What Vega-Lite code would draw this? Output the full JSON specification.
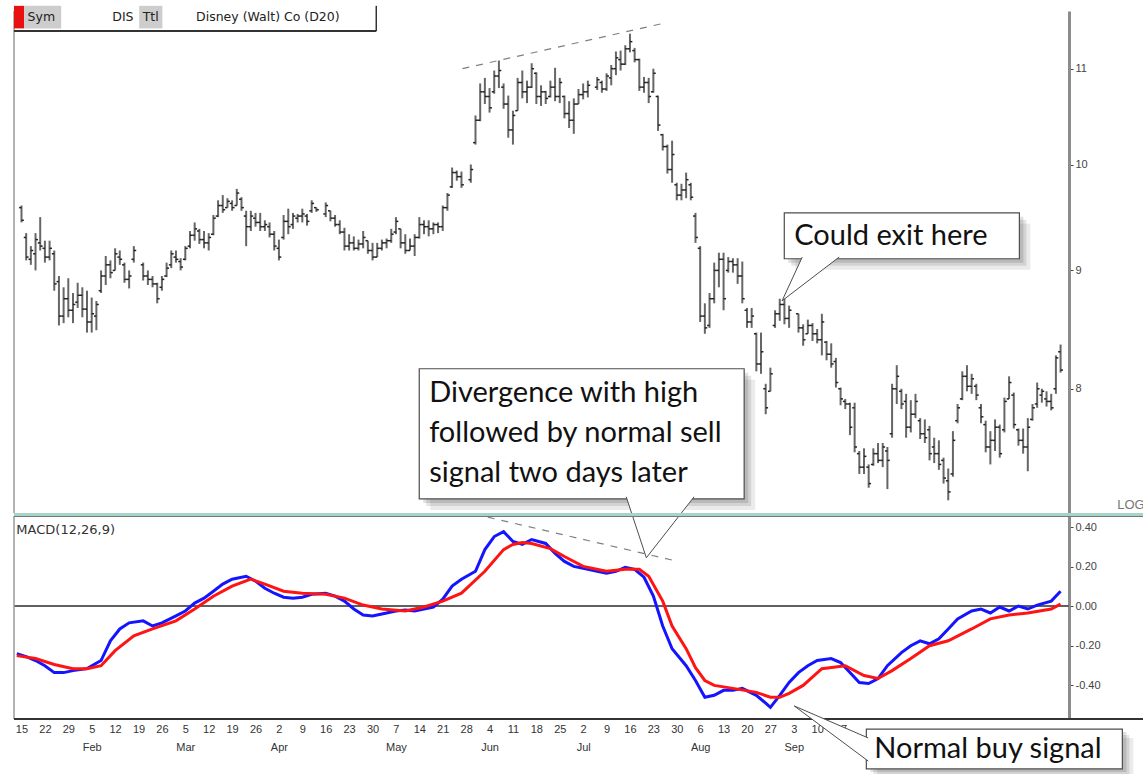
{
  "$schema": "https://vega.github.io/schema/vega-lite/v6.json",
  "padding": {"left": 10, "top": 5, "right": 0, "bottom": 0},
  "autosize": {"type": "pad"},
  "bounds": "flush",
  "spacing": 3,
  "background": "white",
  "config": {
    "view": {"stroke": null},
    "axis": {"grid": false, "labelFont": "Liberation Sans", "labelFontSize": 11, "labelColor": "#333", "title": null, "labelOverlap": false, "labelSeparation": 0},
    "axisX": {"labelOverlap": false, "labelFlush": false, "tickCount": 45}
  },
  "datasets": {
    "one": [{}],
    "bars": [
      {"day":0,"open":9.58,"high":9.60,"low":9.44,"close":9.46},
      {"day":1,"open":9.30,"high":9.34,"low":9.09,"close":9.12},
      {"day":2,"open":9.10,"high":9.22,"low":9.05,"close":9.18},
      {"day":3,"open":9.15,"high":9.34,"low":9.00,"close":9.28},
      {"day":4,"open":9.25,"high":9.49,"low":9.18,"close":9.22},
      {"day":5,"open":9.20,"high":9.27,"low":9.07,"close":9.12},
      {"day":6,"open":9.12,"high":9.27,"low":9.09,"close":9.20},
      {"day":7,"open":9.15,"high":9.18,"low":8.82,"close":8.88},
      {"day":8,"open":8.90,"high":8.95,"low":8.52,"close":8.60},
      {"day":9,"open":8.60,"high":8.85,"low":8.54,"close":8.75},
      {"day":10,"open":8.75,"high":8.93,"low":8.59,"close":8.65},
      {"day":11,"open":8.65,"high":8.80,"low":8.54,"close":8.70},
      {"day":12,"open":8.72,"high":8.89,"low":8.67,"close":8.78},
      {"day":13,"open":8.78,"high":8.85,"low":8.59,"close":8.66},
      {"day":14,"open":8.66,"high":8.82,"low":8.46,"close":8.55},
      {"day":15,"open":8.55,"high":8.76,"low":8.46,"close":8.62},
      {"day":16,"open":8.60,"high":8.73,"low":8.48,"close":8.70},
      {"day":17,"open":8.82,"high":9.00,"low":8.80,"close":8.95},
      {"day":18,"open":8.95,"high":9.13,"low":8.87,"close":9.05},
      {"day":19,"open":9.05,"high":9.09,"low":8.93,"close":8.98},
      {"day":20,"open":9.00,"high":9.20,"low":9.00,"close":9.15},
      {"day":21,"open":9.12,"high":9.18,"low":9.05,"close":9.10},
      {"day":22,"open":9.05,"high":9.07,"low":8.89,"close":8.92},
      {"day":23,"open":8.92,"high":9.00,"low":8.84,"close":8.95},
      {"day":24,"open":9.10,"high":9.22,"low":9.07,"close":9.18},
      {"day":26,"open":9.05,"high":9.07,"low":8.91,"close":8.95},
      {"day":27,"open":8.95,"high":9.00,"low":8.87,"close":8.92},
      {"day":28,"open":8.92,"high":8.95,"low":8.85,"close":8.88},
      {"day":29,"open":8.88,"high":8.89,"low":8.71,"close":8.75},
      {"day":30,"open":8.85,"high":8.95,"low":8.82,"close":8.92},
      {"day":31,"open":8.95,"high":9.07,"low":8.94,"close":9.02},
      {"day":32,"open":9.05,"high":9.18,"low":9.02,"close":9.15},
      {"day":33,"open":9.12,"high":9.18,"low":9.07,"close":9.10},
      {"day":34,"open":9.08,"high":9.11,"low":9.00,"close":9.03},
      {"day":35,"open":9.10,"high":9.22,"low":9.09,"close":9.20},
      {"day":36,"open":9.22,"high":9.36,"low":9.20,"close":9.32},
      {"day":37,"open":9.32,"high":9.44,"low":9.27,"close":9.38},
      {"day":38,"open":9.36,"high":9.38,"low":9.24,"close":9.28},
      {"day":39,"open":9.28,"high":9.36,"low":9.20,"close":9.25},
      {"day":40,"open":9.25,"high":9.34,"low":9.18,"close":9.30},
      {"day":41,"open":9.33,"high":9.51,"low":9.32,"close":9.48},
      {"day":42,"open":9.50,"high":9.65,"low":9.49,"close":9.60},
      {"day":43,"open":9.60,"high":9.70,"low":9.53,"close":9.56},
      {"day":44,"open":9.58,"high":9.67,"low":9.58,"close":9.64},
      {"day":45,"open":9.62,"high":9.65,"low":9.55,"close":9.58},
      {"day":46,"open":9.60,"high":9.76,"low":9.60,"close":9.72},
      {"day":47,"open":9.66,"high":9.68,"low":9.55,"close":9.58},
      {"day":48,"open":9.50,"high":9.55,"low":9.22,"close":9.40},
      {"day":49,"open":9.40,"high":9.55,"low":9.36,"close":9.50},
      {"day":50,"open":9.48,"high":9.53,"low":9.40,"close":9.44},
      {"day":51,"open":9.44,"high":9.53,"low":9.36,"close":9.40},
      {"day":52,"open":9.40,"high":9.46,"low":9.36,"close":9.42},
      {"day":53,"open":9.40,"high":9.44,"low":9.30,"close":9.33},
      {"day":54,"open":9.33,"high":9.36,"low":9.18,"close":9.22},
      {"day":55,"open":9.20,"high":9.28,"low":9.09,"close":9.12},
      {"day":56,"open":9.30,"high":9.51,"low":9.28,"close":9.45},
      {"day":57,"open":9.45,"high":9.57,"low":9.33,"close":9.40},
      {"day":58,"open":9.42,"high":9.53,"low":9.38,"close":9.50},
      {"day":59,"open":9.48,"high":9.52,"low":9.44,"close":9.50},
      {"day":60,"open":9.50,"high":9.57,"low":9.44,"close":9.52},
      {"day":61,"open":9.50,"high":9.52,"low":9.41,"close":9.45},
      {"day":62,"open":9.55,"high":9.65,"low":9.53,"close":9.62},
      {"day":63,"open":9.58,"high":9.58,"low":9.54,"close":9.56},
      {"day":65,"open":9.52,"high":9.63,"low":9.49,"close":9.60},
      {"day":66,"open":9.55,"high":9.55,"low":9.45,"close":9.48},
      {"day":67,"open":9.48,"high":9.51,"low":9.40,"close":9.42},
      {"day":68,"open":9.42,"high":9.46,"low":9.33,"close":9.35},
      {"day":69,"open":9.35,"high":9.39,"low":9.18,"close":9.22},
      {"day":70,"open":9.22,"high":9.33,"low":9.18,"close":9.25},
      {"day":71,"open":9.25,"high":9.31,"low":9.18,"close":9.20},
      {"day":72,"open":9.20,"high":9.28,"low":9.18,"close":9.24},
      {"day":73,"open":9.24,"high":9.36,"low":9.20,"close":9.30},
      {"day":74,"open":9.27,"high":9.27,"low":9.15,"close":9.18},
      {"day":75,"open":9.18,"high":9.25,"low":9.09,"close":9.12},
      {"day":76,"open":9.12,"high":9.25,"low":9.12,"close":9.20},
      {"day":77,"open":9.20,"high":9.28,"low":9.18,"close":9.25},
      {"day":78,"open":9.25,"high":9.29,"low":9.20,"close":9.27},
      {"day":79,"open":9.27,"high":9.38,"low":9.25,"close":9.33},
      {"day":80,"open":9.35,"high":9.49,"low":9.33,"close":9.45},
      {"day":81,"open":9.38,"high":9.38,"low":9.20,"close":9.25},
      {"day":82,"open":9.25,"high":9.33,"low":9.15,"close":9.18},
      {"day":83,"open":9.18,"high":9.29,"low":9.18,"close":9.22},
      {"day":84,"open":9.22,"high":9.33,"low":9.13,"close":9.30},
      {"day":85,"open":9.30,"high":9.49,"low":9.29,"close":9.42},
      {"day":86,"open":9.42,"high":9.46,"low":9.33,"close":9.40},
      {"day":87,"open":9.40,"high":9.46,"low":9.31,"close":9.38},
      {"day":88,"open":9.38,"high":9.44,"low":9.33,"close":9.42},
      {"day":89,"open":9.42,"high":9.44,"low":9.34,"close":9.40},
      {"day":90,"open":9.40,"high":9.60,"low":9.36,"close":9.58},
      {"day":91,"open":9.58,"high":9.72,"low":9.55,"close":9.70},
      {"day":92,"open":9.78,"high":9.97,"low":9.77,"close":9.92},
      {"day":93,"open":9.92,"high":9.94,"low":9.84,"close":9.88},
      {"day":94,"open":9.88,"high":9.93,"low":9.77,"close":9.80},
      {"day":96,"open":9.85,"high":10.00,"low":9.82,"close":9.95},
      {"day":97,"open":10.22,"high":10.50,"low":10.20,"close":10.45},
      {"day":98,"open":10.45,"high":10.84,"low":10.44,"close":10.75},
      {"day":99,"open":10.75,"high":10.90,"low":10.62,"close":10.70},
      {"day":100,"open":10.70,"high":10.79,"low":10.53,"close":10.58},
      {"day":101,"open":10.75,"high":10.98,"low":10.73,"close":10.92},
      {"day":102,"open":10.92,"high":11.09,"low":10.79,"close":10.98},
      {"day":103,"open":10.80,"high":10.84,"low":10.57,"close":10.62},
      {"day":104,"open":10.62,"high":10.71,"low":10.27,"close":10.35},
      {"day":105,"open":10.35,"high":10.55,"low":10.20,"close":10.50},
      {"day":106,"open":10.55,"high":10.90,"low":10.55,"close":10.85},
      {"day":107,"open":10.85,"high":10.98,"low":10.68,"close":10.75},
      {"day":108,"open":10.75,"high":10.87,"low":10.63,"close":10.80},
      {"day":109,"open":10.80,"high":11.06,"low":10.79,"close":11.00},
      {"day":110,"open":10.95,"high":10.96,"low":10.62,"close":10.70},
      {"day":111,"open":10.70,"high":10.82,"low":10.60,"close":10.75},
      {"day":112,"open":10.75,"high":10.76,"low":10.62,"close":10.68},
      {"day":113,"open":10.70,"high":10.87,"low":10.69,"close":10.80},
      {"day":114,"open":10.80,"high":11.01,"low":10.65,"close":10.70},
      {"day":115,"open":10.70,"high":10.90,"low":10.63,"close":10.85},
      {"day":116,"open":10.70,"high":10.71,"low":10.47,"close":10.52},
      {"day":117,"open":10.52,"high":10.65,"low":10.37,"close":10.45},
      {"day":118,"open":10.45,"high":10.68,"low":10.31,"close":10.62},
      {"day":119,"open":10.62,"high":10.78,"low":10.62,"close":10.72},
      {"day":120,"open":10.72,"high":10.84,"low":10.67,"close":10.75},
      {"day":121,"open":10.75,"high":10.87,"low":10.69,"close":10.82},
      {"day":123,"open":10.80,"high":10.91,"low":10.77,"close":10.88},
      {"day":124,"open":10.85,"high":10.87,"low":10.74,"close":10.78},
      {"day":125,"open":10.78,"high":10.95,"low":10.76,"close":10.92},
      {"day":126,"open":10.90,"high":11.04,"low":10.82,"close":11.00},
      {"day":127,"open":11.00,"high":11.19,"low":10.93,"close":11.12},
      {"day":128,"open":11.10,"high":11.20,"low":10.98,"close":11.05},
      {"day":129,"open":11.05,"high":11.26,"low":11.04,"close":11.22},
      {"day":130,"open":11.22,"high":11.39,"low":11.18,"close":11.30},
      {"day":131,"open":11.20,"high":11.23,"low":11.07,"close":11.10},
      {"day":132,"open":11.10,"high":11.11,"low":10.76,"close":10.80},
      {"day":133,"open":10.80,"high":10.91,"low":10.74,"close":10.85},
      {"day":134,"open":10.85,"high":10.90,"low":10.63,"close":10.70},
      {"day":135,"open":10.75,"high":11.00,"low":10.74,"close":10.95},
      {"day":136,"open":10.70,"high":10.71,"low":10.34,"close":10.40},
      {"day":137,"open":10.30,"high":10.31,"low":10.14,"close":10.18},
      {"day":138,"open":10.18,"high":10.20,"low":9.91,"close":9.95},
      {"day":139,"open":9.95,"high":10.24,"low":9.82,"close":10.10},
      {"day":140,"open":9.80,"high":9.82,"low":9.65,"close":9.70},
      {"day":141,"open":9.70,"high":9.81,"low":9.65,"close":9.75},
      {"day":142,"open":9.75,"high":9.92,"low":9.67,"close":9.85},
      {"day":143,"open":9.80,"high":9.82,"low":9.65,"close":9.68},
      {"day":144,"open":9.50,"high":9.53,"low":9.25,"close":9.30},
      {"day":145,"open":9.20,"high":9.22,"low":8.55,"close":8.60},
      {"day":146,"open":8.60,"high":8.71,"low":8.45,"close":8.50},
      {"day":147,"open":8.52,"high":8.80,"low":8.50,"close":8.75},
      {"day":148,"open":8.75,"high":9.07,"low":8.71,"close":9.00},
      {"day":149,"open":9.00,"high":9.16,"low":8.85,"close":9.10},
      {"day":150,"open":9.10,"high":9.16,"low":8.65,"close":8.75},
      {"day":151,"open":9.00,"high":9.12,"low":8.98,"close":9.08},
      {"day":152,"open":9.08,"high":9.11,"low":8.98,"close":9.05},
      {"day":153,"open":9.05,"high":9.11,"low":8.88,"close":8.95},
      {"day":154,"open":8.95,"high":9.08,"low":8.71,"close":8.75},
      {"day":155,"open":8.65,"high":8.67,"low":8.50,"close":8.55},
      {"day":156,"open":8.55,"high":8.67,"low":8.50,"close":8.60},
      {"day":157,"open":8.45,"high":8.46,"low":8.14,"close":8.20},
      {"day":158,"open":8.20,"high":8.46,"low":8.12,"close":8.30},
      {"day":159,"open":8.00,"high":8.04,"low":7.80,"close":7.85},
      {"day":160,"open":7.98,"high":8.17,"low":7.98,"close":8.12},
      {"day":161,"open":8.52,"high":8.65,"low":8.50,"close":8.62},
      {"day":162,"open":8.62,"high":8.75,"low":8.56,"close":8.70},
      {"day":163,"open":8.70,"high":8.76,"low":8.53,"close":8.58},
      {"day":164,"open":8.58,"high":8.69,"low":8.50,"close":8.65},
      {"day":166,"open":8.62,"high":8.62,"low":8.46,"close":8.50},
      {"day":167,"open":8.50,"high":8.53,"low":8.35,"close":8.40},
      {"day":168,"open":8.45,"high":8.57,"low":8.45,"close":8.52},
      {"day":169,"open":8.52,"high":8.54,"low":8.39,"close":8.45},
      {"day":170,"open":8.45,"high":8.49,"low":8.37,"close":8.40},
      {"day":171,"open":8.40,"high":8.62,"low":8.27,"close":8.55},
      {"day":172,"open":8.38,"high":8.39,"low":8.23,"close":8.28},
      {"day":173,"open":8.28,"high":8.37,"low":8.17,"close":8.20},
      {"day":174,"open":8.22,"high":8.25,"low":8.01,"close":8.05},
      {"day":175,"open":8.00,"high":8.01,"low":7.87,"close":7.92},
      {"day":176,"open":7.90,"high":7.92,"low":7.84,"close":7.88},
      {"day":177,"open":7.88,"high":7.89,"low":7.64,"close":7.70},
      {"day":178,"open":7.85,"high":7.89,"low":7.51,"close":7.55},
      {"day":179,"open":7.50,"high":7.52,"low":7.35,"close":7.40},
      {"day":180,"open":7.40,"high":7.54,"low":7.35,"close":7.48},
      {"day":181,"open":7.40,"high":7.42,"low":7.25,"close":7.28},
      {"day":182,"open":7.42,"high":7.54,"low":7.41,"close":7.50},
      {"day":183,"open":7.50,"high":7.58,"low":7.43,"close":7.45},
      {"day":184,"open":7.45,"high":7.58,"low":7.40,"close":7.55},
      {"day":185,"open":7.52,"high":7.55,"low":7.24,"close":7.45},
      {"day":186,"open":7.65,"high":8.04,"low":7.62,"close":8.00},
      {"day":187,"open":8.00,"high":8.19,"low":7.88,"close":8.10},
      {"day":188,"open":7.98,"high":8.00,"low":7.84,"close":7.88},
      {"day":189,"open":7.90,"high":7.96,"low":7.62,"close":7.70},
      {"day":190,"open":7.70,"high":7.91,"low":7.66,"close":7.80},
      {"day":191,"open":7.80,"high":7.96,"low":7.77,"close":7.90},
      {"day":192,"open":7.75,"high":7.77,"low":7.61,"close":7.65},
      {"day":193,"open":7.65,"high":7.76,"low":7.58,"close":7.62},
      {"day":194,"open":7.68,"high":7.71,"low":7.45,"close":7.50},
      {"day":195,"open":7.55,"high":7.62,"low":7.43,"close":7.50},
      {"day":196,"open":7.50,"high":7.60,"low":7.38,"close":7.42},
      {"day":197,"open":7.45,"high":7.47,"low":7.28,"close":7.32},
      {"day":198,"open":7.30,"high":7.39,"low":7.16,"close":7.22},
      {"day":199,"open":7.35,"high":7.67,"low":7.33,"close":7.60},
      {"day":200,"open":7.75,"high":7.88,"low":7.73,"close":7.85},
      {"day":201,"open":7.92,"high":8.14,"low":7.91,"close":8.10},
      {"day":202,"open":8.10,"high":8.19,"low":7.98,"close":8.02},
      {"day":203,"open":8.02,"high":8.12,"low":7.96,"close":8.08},
      {"day":204,"open":8.02,"high":8.04,"low":7.91,"close":7.95},
      {"day":205,"open":7.85,"high":7.88,"low":7.73,"close":7.78},
      {"day":206,"open":7.72,"high":7.75,"low":7.51,"close":7.55},
      {"day":207,"open":7.55,"high":7.67,"low":7.42,"close":7.60},
      {"day":208,"open":7.60,"high":7.76,"low":7.52,"close":7.70},
      {"day":209,"open":7.70,"high":7.72,"low":7.47,"close":7.50},
      {"day":210,"open":7.68,"high":7.93,"low":7.66,"close":7.90},
      {"day":211,"open":7.92,"high":8.10,"low":7.92,"close":8.05},
      {"day":212,"open":7.95,"high":7.97,"low":7.69,"close":7.72},
      {"day":213,"open":7.68,"high":7.69,"low":7.56,"close":7.60},
      {"day":214,"open":7.60,"high":7.69,"low":7.50,"close":7.55},
      {"day":215,"open":7.55,"high":7.77,"low":7.37,"close":7.70},
      {"day":216,"open":7.76,"high":7.88,"low":7.75,"close":7.85},
      {"day":217,"open":7.88,"high":8.05,"low":7.85,"close":8.00},
      {"day":218,"open":7.95,"high":8.00,"low":7.89,"close":7.98},
      {"day":219,"open":7.92,"high":7.98,"low":7.86,"close":7.90},
      {"day":220,"open":7.90,"high":7.96,"low":7.83,"close":7.85},
      {"day":221,"open":8.00,"high":8.27,"low":7.96,"close":8.25},
      {"day":222,"open":8.30,"high":8.36,"low":8.13,"close":8.15}
    ],
    "macd": [
      {"day":-1,"series":"MACD","value":-0.241},{"day":1,"series":"MACD","value":-0.256},{"day":3,"series":"MACD","value":-0.276},{"day":5,"series":"MACD","value":-0.302},{"day":7,"series":"MACD","value":-0.337},{"day":9,"series":"MACD","value":-0.337},{"day":11,"series":"MACD","value":-0.327},{"day":14,"series":"MACD","value":-0.317},{"day":17,"series":"MACD","value":-0.276},{"day":19,"series":"MACD","value":-0.176},{"day":21,"series":"MACD","value":-0.116},{"day":23,"series":"MACD","value":-0.085},{"day":26,"series":"MACD","value":-0.075},{"day":28,"series":"MACD","value":-0.101},{"day":30,"series":"MACD","value":-0.085},{"day":33,"series":"MACD","value":-0.050},{"day":35,"series":"MACD","value":-0.025},{"day":37,"series":"MACD","value":0.015},{"day":39,"series":"MACD","value":0.040},{"day":41,"series":"MACD","value":0.075},{"day":43,"series":"MACD","value":0.111},{"day":45,"series":"MACD","value":0.136},{"day":48,"series":"MACD","value":0.151},{"day":50,"series":"MACD","value":0.126},{"day":52,"series":"MACD","value":0.090},{"day":54,"series":"MACD","value":0.065},{"day":56,"series":"MACD","value":0.045},{"day":58,"series":"MACD","value":0.040},{"day":60,"series":"MACD","value":0.045},{"day":62,"series":"MACD","value":0.060},{"day":65,"series":"MACD","value":0.065},{"day":67,"series":"MACD","value":0.050},{"day":69,"series":"MACD","value":0.025},{"day":71,"series":"MACD","value":-0.015},{"day":73,"series":"MACD","value":-0.045},{"day":75,"series":"MACD","value":-0.050},{"day":77,"series":"MACD","value":-0.040},{"day":80,"series":"MACD","value":-0.025},{"day":82,"series":"MACD","value":-0.020},{"day":84,"series":"MACD","value":-0.025},{"day":86,"series":"MACD","value":-0.015},{"day":88,"series":"MACD","value":-0.005},{"day":90,"series":"MACD","value":0.035},{"day":92,"series":"MACD","value":0.101},{"day":94,"series":"MACD","value":0.136},{"day":97,"series":"MACD","value":0.176},{"day":99,"series":"MACD","value":0.286},{"day":101,"series":"MACD","value":0.352},{"day":103,"series":"MACD","value":0.377},{"day":105,"series":"MACD","value":0.327},{"day":107,"series":"MACD","value":0.312},{"day":109,"series":"MACD","value":0.337},{"day":112,"series":"MACD","value":0.317},{"day":114,"series":"MACD","value":0.266},{"day":116,"series":"MACD","value":0.226},{"day":118,"series":"MACD","value":0.201},{"day":120,"series":"MACD","value":0.191},{"day":123,"series":"MACD","value":0.176},{"day":125,"series":"MACD","value":0.166},{"day":127,"series":"MACD","value":0.176},{"day":129,"series":"MACD","value":0.196},{"day":131,"series":"MACD","value":0.186},{"day":133,"series":"MACD","value":0.146},{"day":135,"series":"MACD","value":0.050},{"day":137,"series":"MACD","value":-0.101},{"day":139,"series":"MACD","value":-0.216},{"day":142,"series":"MACD","value":-0.302},{"day":144,"series":"MACD","value":-0.377},{"day":146,"series":"MACD","value":-0.462},{"day":148,"series":"MACD","value":-0.452},{"day":150,"series":"MACD","value":-0.427},{"day":152,"series":"MACD","value":-0.427},{"day":154,"series":"MACD","value":-0.417},{"day":157,"series":"MACD","value":-0.452},{"day":159,"series":"MACD","value":-0.492},{"day":160,"series":"MACD","value":-0.513},{"day":162,"series":"MACD","value":-0.452},{"day":164,"series":"MACD","value":-0.387},{"day":166,"series":"MACD","value":-0.337},{"day":168,"series":"MACD","value":-0.302},{"day":170,"series":"MACD","value":-0.276},{"day":173,"series":"MACD","value":-0.266},{"day":175,"series":"MACD","value":-0.286},{"day":177,"series":"MACD","value":-0.337},{"day":179,"series":"MACD","value":-0.387},{"day":181,"series":"MACD","value":-0.392},{"day":183,"series":"MACD","value":-0.367},{"day":185,"series":"MACD","value":-0.302},{"day":188,"series":"MACD","value":-0.236},{"day":190,"series":"MACD","value":-0.201},{"day":192,"series":"MACD","value":-0.176},{"day":194,"series":"MACD","value":-0.191},{"day":196,"series":"MACD","value":-0.166},{"day":198,"series":"MACD","value":-0.116},{"day":200,"series":"MACD","value":-0.065},{"day":203,"series":"MACD","value":-0.025},{"day":205,"series":"MACD","value":-0.015},{"day":207,"series":"MACD","value":-0.035},{"day":209,"series":"MACD","value":-0.005},{"day":211,"series":"MACD","value":-0.025},{"day":213,"series":"MACD","value":0.000},{"day":215,"series":"MACD","value":-0.015},{"day":217,"series":"MACD","value":0.005},{"day":220,"series":"MACD","value":0.025},{"day":222,"series":"MACD","value":0.075},
      {"day":-1,"series":"Signal","value":-0.251},{"day":3,"series":"Signal","value":-0.266},{"day":7,"series":"Signal","value":-0.296},{"day":11,"series":"Signal","value":-0.317},{"day":14,"series":"Signal","value":-0.317},{"day":17,"series":"Signal","value":-0.302},{"day":20,"series":"Signal","value":-0.226},{"day":24,"series":"Signal","value":-0.151},{"day":28,"series":"Signal","value":-0.116},{"day":33,"series":"Signal","value":-0.075},{"day":37,"series":"Signal","value":-0.015},{"day":41,"series":"Signal","value":0.050},{"day":45,"series":"Signal","value":0.101},{"day":49,"series":"Signal","value":0.136},{"day":52,"series":"Signal","value":0.111},{"day":56,"series":"Signal","value":0.075},{"day":60,"series":"Signal","value":0.065},{"day":65,"series":"Signal","value":0.060},{"day":69,"series":"Signal","value":0.040},{"day":73,"series":"Signal","value":0.005},{"day":77,"series":"Signal","value":-0.015},{"day":82,"series":"Signal","value":-0.025},{"day":86,"series":"Signal","value":-0.005},{"day":90,"series":"Signal","value":0.025},{"day":94,"series":"Signal","value":0.065},{"day":99,"series":"Signal","value":0.176},{"day":103,"series":"Signal","value":0.286},{"day":105,"series":"Signal","value":0.312},{"day":107,"series":"Signal","value":0.322},{"day":109,"series":"Signal","value":0.317},{"day":113,"series":"Signal","value":0.291},{"day":116,"series":"Signal","value":0.251},{"day":120,"series":"Signal","value":0.201},{"day":125,"series":"Signal","value":0.176},{"day":129,"series":"Signal","value":0.186},{"day":132,"series":"Signal","value":0.186},{"day":134,"series":"Signal","value":0.151},{"day":137,"series":"Signal","value":0.025},{"day":139,"series":"Signal","value":-0.101},{"day":142,"series":"Signal","value":-0.216},{"day":144,"series":"Signal","value":-0.312},{"day":146,"series":"Signal","value":-0.377},{"day":148,"series":"Signal","value":-0.402},{"day":152,"series":"Signal","value":-0.417},{"day":157,"series":"Signal","value":-0.437},{"day":160,"series":"Signal","value":-0.462},{"day":162,"series":"Signal","value":-0.462},{"day":164,"series":"Signal","value":-0.442},{"day":167,"series":"Signal","value":-0.402},{"day":171,"series":"Signal","value":-0.317},{"day":176,"series":"Signal","value":-0.302},{"day":180,"series":"Signal","value":-0.352},{"day":183,"series":"Signal","value":-0.367},{"day":186,"series":"Signal","value":-0.327},{"day":190,"series":"Signal","value":-0.266},{"day":194,"series":"Signal","value":-0.201},{"day":198,"series":"Signal","value":-0.176},{"day":203,"series":"Signal","value":-0.116},{"day":207,"series":"Signal","value":-0.065},{"day":211,"series":"Signal","value":-0.045},{"day":215,"series":"Signal","value":-0.035},{"day":220,"series":"Signal","value":-0.015},{"day":222,"series":"Signal","value":0.010}
    ],
    "priceBoxes": [
      {"d1":162.97,"d2":213.2,"p1":9.105,"p2":9.531},
      {"d1":84.98,"d2":154.4,"p1":7.17,"p2":8.161}
    ],
    "priceWedges": [
      {"g":"exit","seq":1,"day":166.8,"price":9.12},
      {"g":"exit","seq":2,"day":162.5,"price":8.732},
      {"g":"exit","seq":3,"day":174.7,"price":9.12},
      {"g":"div","seq":1,"day":129.2,"price":7.185},
      {"g":"div","seq":2,"day":133.5,"price":6.762},
      {"g":"div","seq":3,"day":143.7,"price":7.185}
    ],
    "buyBox": [{"d1":180.5,"d2":235.2,"v1":-0.825,"v2":-0.623}],
    "buyWedge": [
      {"seq":1,"day":180.9,"value":-0.668},
      {"seq":2,"day":165.1,"value":-0.506},
      {"seq":3,"day":180.9,"value":-0.785}
    ]
  },
  "vconcat": [
    {
      "width": 1055,
      "height": 502,
      "layer": [
        {
          "data": {"name": "bars"},
          "mark": {"type": "rule", "color": "#666", "strokeWidth": 2},
          "encoding": {
            "x": {"field": "day", "type": "quantitative", "scale": {"domain": [-1.6, 223.8], "nice": false, "zero": false},
              "axis": {"labels": false, "ticks": false, "domain": false, "title": null}},
            "y": {"field": "low", "type": "quantitative", "scale": {"type": "log", "domain": [7.07, 11.65], "nice": false},
              "axis": {"orient": "right", "values": [8, 9, 10, 11], "format": "d", "title": null, "domainColor": "#8c8c8c", "domainWidth": 3, "tickColor": "#444", "tickSize": 4, "labelColor": "#444", "labelPadding": 2}},
            "y2": {"field": "high"}
          }
        },
        {
          "data": {"name": "bars"},
          "mark": {"type": "rule", "color": "#222", "strokeWidth": 1.5, "xOffset": -2.4},
          "encoding": {
            "x": {"field": "day", "type": "quantitative"}, "x2": {"field": "day"},
            "y": {"field": "open", "type": "quantitative"}
          }
        },
        {
          "data": {"name": "bars"},
          "mark": {"type": "rule", "color": "#222", "strokeWidth": 1.5, "x2Offset": 2.4},
          "encoding": {
            "x": {"field": "day", "type": "quantitative"}, "x2": {"field": "day"},
            "y": {"field": "close", "type": "quantitative"}
          }
        },
        {
          "data": {"name": "one"},
          "mark": {"type": "rule", "color": "#9a9a9a", "strokeWidth": 1.5},
          "encoding": {"x": {"datum": -1.6, "type": "quantitative"}}
        },
        {
          "data": {"values": [{"d1": -1.6, "d2": 0.58, "p1": 11.45, "p2": 11.71}]},
          "mark": {"type": "rect", "fill": "#e81010"},
          "encoding": {
            "x": {"field": "d1", "type": "quantitative"}, "x2": {"field": "d2"},
            "y": {"field": "p1", "type": "quantitative"}, "y2": {"field": "p2"}
          }
        },
        {
          "data": {"values": [{"d1": 0.58, "d2": 8.48, "p1": 11.45, "p2": 11.71}, {"d1": 25.15, "d2": 30.1, "p1": 11.45, "p2": 11.71}]},
          "mark": {"type": "rect", "fill": "#cdcdcd"},
          "encoding": {
            "x": {"field": "d1", "type": "quantitative"}, "x2": {"field": "d2"},
            "y": {"field": "p1", "type": "quantitative"}, "y2": {"field": "p2"}
          }
        },
        {
          "data": {"values": [{"day": 1.3, "price": 11.575, "label": "Sym"}, {"day": 19.4, "price": 11.575, "label": "DIS"}, {"day": 25.9, "price": 11.575, "label": "Ttl"}, {"day": 37.3, "price": 11.575, "label": "Disney (Walt) Co (D20)"}]},
          "mark": {"type": "text", "align": "left", "baseline": "middle", "font": "DejaVu Sans", "fontSize": 12.5, "color": "#222"},
          "encoding": {
            "x": {"field": "day", "type": "quantitative"},
            "y": {"field": "price", "type": "quantitative"},
            "text": {"field": "label"}
          }
        },
        {
          "data": {"values": [{"d1": -1.6, "d2": 75.8, "price": 11.42}]},
          "mark": {"type": "rule", "color": "#333", "strokeWidth": 2},
          "encoding": {
            "x": {"field": "d1", "type": "quantitative"}, "x2": {"field": "d2"},
            "y": {"field": "price", "type": "quantitative"}
          }
        },
        {
          "data": {"values": [{"day": 75.8, "p1": 11.42, "p2": 11.71}]},
          "mark": {"type": "rule", "color": "#333", "strokeWidth": 1.5},
          "encoding": {
            "x": {"field": "day", "type": "quantitative"},
            "y": {"field": "p1", "type": "quantitative"}, "y2": {"field": "p2"}
          }
        },
        {
          "data": {"values": [{"day": 94.2, "price": 11.0}, {"day": 137.3, "price": 11.51}]},
          "mark": {"type": "line", "color": "#808080", "strokeWidth": 1.2, "strokeDash": [7, 7]},
          "encoding": {
            "x": {"field": "day", "type": "quantitative"},
            "y": {"field": "price", "type": "quantitative"}
          }
        },
        {
          "data": {"name": "priceBoxes"},
          "mark": {"type": "rect", "fill": "#000", "opacity": 0.08, "xOffset": 11, "x2Offset": 11, "yOffset": 11, "y2Offset": 11},
          "encoding": {
            "x": {"field": "d1", "type": "quantitative"}, "x2": {"field": "d2"},
            "y": {"field": "p1", "type": "quantitative"}, "y2": {"field": "p2"}
          }
        },
        {
          "data": {"name": "priceBoxes"},
          "mark": {"type": "rect", "fill": "#000", "opacity": 0.1, "xOffset": 7, "x2Offset": 7, "yOffset": 7, "y2Offset": 7},
          "encoding": {
            "x": {"field": "d1", "type": "quantitative"}, "x2": {"field": "d2"},
            "y": {"field": "p1", "type": "quantitative"}, "y2": {"field": "p2"}
          }
        },
        {
          "data": {"name": "priceBoxes"},
          "mark": {"type": "rect", "fill": "#000", "opacity": 0.12, "xOffset": 4, "x2Offset": 4, "yOffset": 4, "y2Offset": 4},
          "encoding": {
            "x": {"field": "d1", "type": "quantitative"}, "x2": {"field": "d2"},
            "y": {"field": "p1", "type": "quantitative"}, "y2": {"field": "p2"}
          }
        },
        {
          "data": {"name": "priceBoxes"},
          "mark": {"type": "rect", "fill": "white", "stroke": "#4d4d4d", "strokeWidth": 1.2},
          "encoding": {
            "x": {"field": "d1", "type": "quantitative"}, "x2": {"field": "d2"},
            "y": {"field": "p1", "type": "quantitative"}, "y2": {"field": "p2"}
          }
        },
        {
          "data": {"name": "priceWedges"},
          "mark": {"type": "line", "stroke": "#4d4d4d", "fill": "white", "strokeWidth": 1},
          "encoding": {
            "x": {"field": "day", "type": "quantitative"},
            "y": {"field": "price", "type": "quantitative"},
            "detail": {"field": "g"},
            "order": {"field": "seq"}
          }
        },
        {
          "data": {"values": [
            {"day": 165.1, "price": 9.315, "label": "Could exit here"},
            {"day": 87.1, "price": 7.968, "label": "Divergence with high"},
            {"day": 87.1, "price": 7.657, "label": "followed by normal sell"},
            {"day": 87.1, "price": 7.359, "label": "signal two days later"}
          ]},
          "mark": {"type": "text", "align": "left", "baseline": "middle", "font": "Lato", "fontSize": 29, "color": "#111"},
          "encoding": {
            "x": {"field": "day", "type": "quantitative"},
            "y": {"field": "price", "type": "quantitative"},
            "text": {"field": "label"}
          }
        },
        {
          "data": {"values": [{"day": 234.1, "price": 7.13, "label": "LOG"}]},
          "mark": {"type": "text", "align": "left", "baseline": "middle", "font": "Liberation Sans", "fontSize": 13, "color": "#777"},
          "encoding": {
            "x": {"field": "day", "type": "quantitative"},
            "y": {"field": "price", "type": "quantitative"},
            "text": {"field": "label"}
          }
        }
      ]
    },
    {
      "width": 1055,
      "height": 203,
      "layer": [
        {
          "data": {"name": "one"},
          "mark": {"type": "rule", "color": "#606060", "strokeWidth": 2},
          "encoding": {"y": {"datum": 0, "type": "quantitative"}}
        },
        {
          "data": {"name": "macd"},
          "mark": {"type": "line", "strokeWidth": 3},
          "encoding": {
            "x": {"field": "day", "type": "quantitative", "scale": {"domain": [-1.6, 223.8], "nice": false, "zero": false},
              "axis": {"orient": "bottom", "tickCount": 45, "values": [0,5,10,15,20,25,30,35,40,45,50,55,60,65,70,75,80,85,90,95,100,105,110,115,120,125,130,135,140,145,150,155,160,165,170,175],
                "labelExpr": "datum.value > 177 ? '' : (date(datetime(1990,0,15+datum.value*7/5)) <= 7 ? [timeFormat(datetime(1990,0,15+datum.value*7/5),'%-d'), timeFormat(datetime(1990,0,15+datum.value*7/5),'%b')] : timeFormat(datetime(1990,0,15+datum.value*7/5),'%-d'))",
                "domain": false, "ticks": false, "title": null, "labelPadding": 4, "labelLineHeight": 18, "labelOverlap": false, "labelFlush": false, "labelBound": false, "labelSeparation": 0}},
            "y": {"field": "value", "type": "quantitative", "scale": {"domain": [-0.572, 0.456], "nice": false, "zero": false},
              "axis": {"orient": "right", "values": [-0.4, -0.2, 0, 0.2, 0.4], "labelExpr": "replace(format(datum.value,'.2f'),'\u2212','-')", "title": null, "domainColor": "#8c8c8c", "domainWidth": 3, "tickColor": "#444", "tickSize": 4, "labelColor": "#444", "labelPadding": 2}},
            "color": {"field": "series", "type": "nominal", "scale": {"domain": ["MACD", "Signal"], "range": ["#1414ff", "#ff1414"]}, "legend": null}
          }
        },
        {
          "data": {"name": "one"},
          "mark": {"type": "rule", "color": "#9a9a9a", "strokeWidth": 1.5},
          "encoding": {"x": {"datum": -1.6, "type": "quantitative"}}
        },
        {
          "data": {"values": [{"day": 96.7, "value": 0.466}, {"day": 139.9, "value": 0.228}]},
          "mark": {"type": "line", "color": "#808080", "strokeWidth": 1.2, "strokeDash": [7, 7]},
          "encoding": {
            "x": {"field": "day", "type": "quantitative"},
            "y": {"field": "value", "type": "quantitative"}
          }
        },
        {
          "data": {"name": "one"},
          "mark": {"type": "rule", "color": "#a6d4c8", "strokeWidth": 3, "yOffset": -1.5},
          "encoding": {"y": {"datum": 0.456, "type": "quantitative"}, "x": {"datum": -1.6, "type": "quantitative"}, "x2": {"datum": 240}}
        },
        {
          "data": {"name": "one"},
          "mark": {"type": "rule", "color": "#777", "strokeWidth": 1, "yOffset": 0.5},
          "encoding": {"y": {"datum": 0.456, "type": "quantitative"}, "x": {"datum": -1.6, "type": "quantitative"}, "x2": {"datum": 240}}
        },
        {
          "data": {"name": "one"},
          "mark": {"type": "rule", "color": "#333", "strokeWidth": 2},
          "encoding": {"y": {"datum": -0.572, "type": "quantitative"}, "x": {"datum": -1.6, "type": "quantitative"}, "x2": {"datum": 240}}
        },
        {
          "data": {"values": [{"day": -1.1, "value": 0.385, "label": "MACD(12,26,9)"}]},
          "mark": {"type": "text", "align": "left", "baseline": "middle", "font": "DejaVu Sans", "fontSize": 13, "color": "#333"},
          "encoding": {
            "x": {"field": "day", "type": "quantitative"},
            "y": {"field": "value", "type": "quantitative"},
            "text": {"field": "label"}
          }
        },
        {
          "data": {"name": "buyBox"},
          "mark": {"type": "rect", "fill": "#000", "opacity": 0.08, "xOffset": 11, "x2Offset": 11, "yOffset": 9, "y2Offset": 9},
          "encoding": {
            "x": {"field": "d1", "type": "quantitative"}, "x2": {"field": "d2"},
            "y": {"field": "v1", "type": "quantitative"}, "y2": {"field": "v2"}
          }
        },
        {
          "data": {"name": "buyBox"},
          "mark": {"type": "rect", "fill": "#000", "opacity": 0.1, "xOffset": 7, "x2Offset": 7, "yOffset": 6, "y2Offset": 6},
          "encoding": {
            "x": {"field": "d1", "type": "quantitative"}, "x2": {"field": "d2"},
            "y": {"field": "v1", "type": "quantitative"}, "y2": {"field": "v2"}
          }
        },
        {
          "data": {"name": "buyBox"},
          "mark": {"type": "rect", "fill": "#000", "opacity": 0.12, "xOffset": 4, "x2Offset": 4, "yOffset": 3, "y2Offset": 3},
          "encoding": {
            "x": {"field": "d1", "type": "quantitative"}, "x2": {"field": "d2"},
            "y": {"field": "v1", "type": "quantitative"}, "y2": {"field": "v2"}
          }
        },
        {
          "data": {"name": "buyBox"},
          "mark": {"type": "rect", "fill": "white", "stroke": "#4d4d4d", "strokeWidth": 1.2},
          "encoding": {
            "x": {"field": "d1", "type": "quantitative"}, "x2": {"field": "d2"},
            "y": {"field": "v1", "type": "quantitative"}, "y2": {"field": "v2"}
          }
        },
        {
          "data": {"name": "buyWedge"},
          "mark": {"type": "line", "stroke": "#4d4d4d", "fill": "white", "strokeWidth": 1},
          "encoding": {
            "x": {"field": "day", "type": "quantitative"},
            "y": {"field": "value", "type": "quantitative"},
            "order": {"field": "seq"}
          }
        },
        {
          "data": {"values": [{"day": 182.2, "value": -0.724, "label": "Normal buy signal"}]},
          "mark": {"type": "text", "align": "left", "baseline": "middle", "font": "Lato", "fontSize": 29, "color": "#111"},
          "encoding": {
            "x": {"field": "day", "type": "quantitative"},
            "y": {"field": "value", "type": "quantitative"},
            "text": {"field": "label"}
          }
        }
      ]
    }
  ]
}
